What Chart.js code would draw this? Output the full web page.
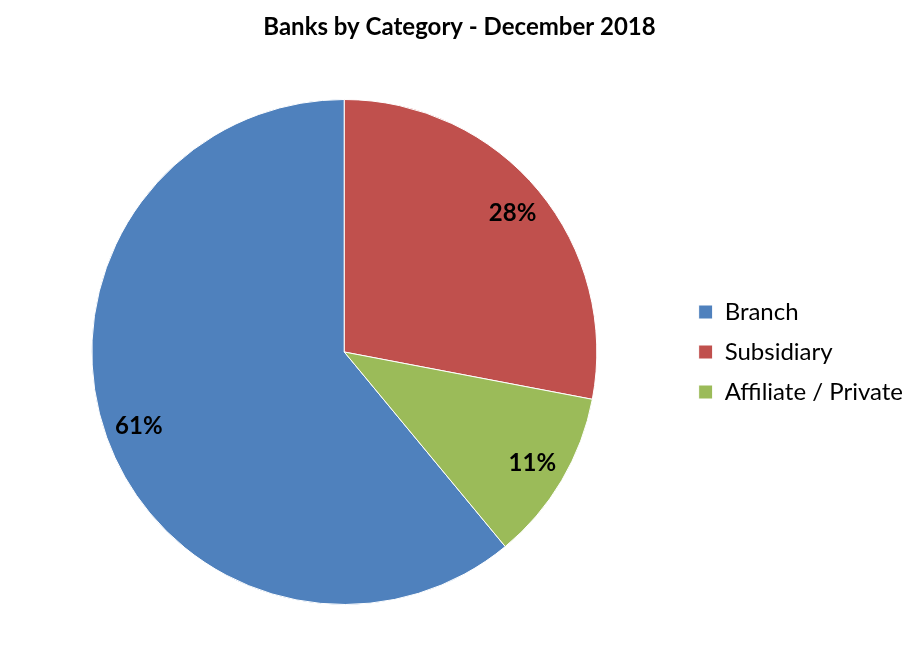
<!DOCTYPE html>
<html><head><meta charset="utf-8">
<script src="https://cdn.jsdelivr.net/npm/chart.js@4"></script>
<style>html,body{margin:0;padding:0;background:#fff}#wrap{width:918px;height:658px;position:relative}</style>
</head><body><div id="wrap"><canvas id="c"></canvas></div>
<script>
const categories = ['Branch', 'Subsidiary', 'Affiliate / Private'];
const shares = [61, 28, 11];
const sliceColors = ['#4F81BD', '#C0504D', '#9BBB59'];
const chartTitle = 'Banks by Category - December 2018';

const pctLabels = {
  id: 'pctLabels',
  afterDatasetsDraw(chart) {
    const meta = chart.getDatasetMeta(0);
    const ctx = chart.ctx;
    const total = shares.reduce((a, b) => a + b, 0);
    ctx.save();
    ctx.font = 'bold 24px Lato';
    ctx.fillStyle = '#000';
    ctx.textAlign = 'center';
    ctx.textBaseline = 'middle';
    meta.data.forEach((arc, i) => {
      const p = arc.getProps(['x', 'y', 'startAngle', 'endAngle', 'outerRadius'], true);
      const mid = (p.startAngle + p.endAngle) / 2;
      const r = p.outerRadius * 0.865;
      ctx.fillText(Math.round(shares[i] / total * 100) + '%', p.x + Math.cos(mid) * r, p.y + Math.sin(mid) * r);
    });
    ctx.restore();
  }
};

const firstShare = shares[0] / shares.reduce((a, b) => a + b, 0);

new Chart(document.getElementById('c'), {
  type: 'pie',
  data: {
    labels: categories,
    datasets: [{
      data: shares,
      backgroundColor: sliceColors,
      borderColor: '#ffffff',
      borderWidth: 1
    }]
  },
  options: {
    responsive: true,
    maintainAspectRatio: false,
    animation: false,
    rotation: -360 * firstShare,
    layout: { padding: { left: 6, right: 5, top: 0, bottom: 53 } },
    plugins: {
      title: {
        display: true,
        text: chartTitle,
        color: '#000',
        font: { family: 'Lato', size: 24, weight: 'bold' },
        padding: { top: 13, bottom: 57.2 }
      },
      legend: {
        position: 'right',
        align: 'center',
        fullSize: false,
        labels: {
          boxWidth: 14,
          boxHeight: 14,
          padding: 16,
          color: '#000',
          font: { family: 'Lato', size: 24 }
        }
      },
      tooltip: { enabled: false }
    }
  },
  plugins: [pctLabels]
});
</script>
</body></html>
